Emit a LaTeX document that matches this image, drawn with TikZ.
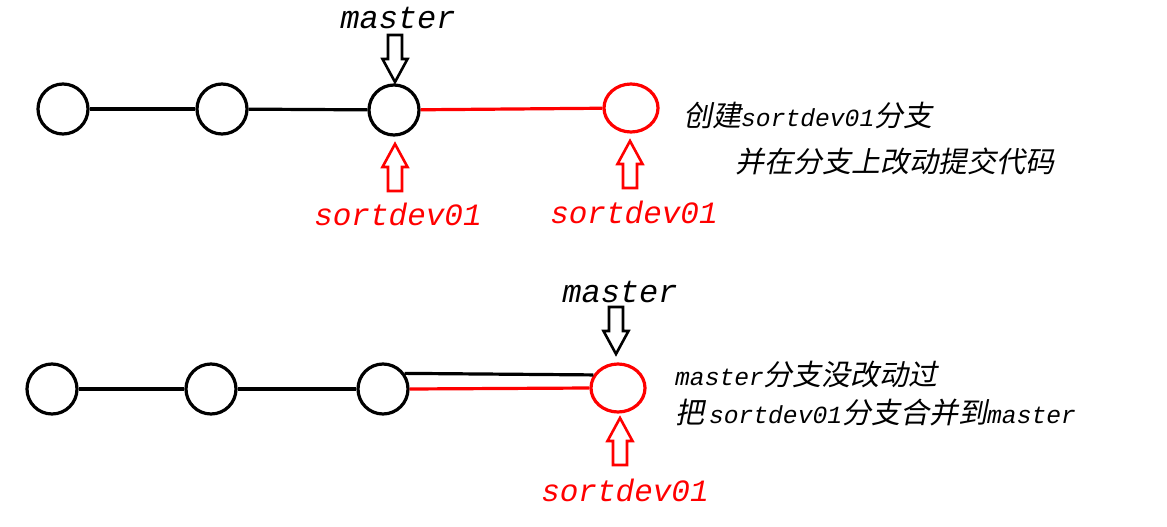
\documentclass[tikz,border=0pt]{standalone}
\usepackage{fontspec}
\usetikzlibrary{shapes.geometric}
\newfontfamily\lmono{Liberation Mono}
\newfontfamily\cjk{Noto Sans CJK SC}[FakeSlant=0.2]
\newfontfamily\latr{Liberation Mono}[Scale=0.85]
\begin{document}
\begin{tikzpicture}[x=1pt,y=-1pt,
  commit/.style={circle,draw=black,line width=3.2pt,minimum size=50pt,inner sep=0pt},
  rcommit/.style={ellipse,draw=red,line width=3.2pt,minimum width=54pt,minimum height=48pt,inner sep=0pt},
  edge/.style={line width=3.2pt},
  redge/.style={line width=3.2pt,red},
  blabel/.style={font=\lmono\itshape\fontsize{32}{36}\selectfont,text=black,inner sep=0pt},
  rlabel/.style={font=\lmono\itshape\fontsize{31}{36}\selectfont,text=red,inner sep=0pt},
  note/.style={font=\cjk\fontsize{29}{36}\selectfont,anchor=west,inner sep=0pt},
  hollowarrow/.pic={\draw[line width=2.6pt,line join=miter,pic actions]
     (-7,0) -- (7,0) -- (7,24) -- (12.5,24) -- (0,47) -- (-12.5,24) -- (-7,24) -- cycle;}
]
\useasboundingbox (0,0) rectangle (1167,527);
% top row
\node[commit] (a1) at (63,109) {};
\node[commit] (a2) at (222,109) {};
\node[commit] (a3) at (394,110) {};
\node[rcommit] (a4) at (631,108) {};
\draw[edge] (a1) -- (a2);
\draw[edge] (a2) -- (a3);
\draw[redge] (a3) -- (a4);
\pic[draw=black] (am) at (395,35) {hollowarrow};
\node[blabel] (amt) at (398,18) {master};
\pic[draw=red,yscale=-1] (as1) at (395,191) {hollowarrow};
\node[rlabel] (as1t) at (398,214) {sortdev01};
\pic[draw=red,yscale=-1] (as2) at (630,188) {hollowarrow};
\node[rlabel] (as2t) at (634,212) {sortdev01};
\node[note] (n1) at (683,116) {创建{\latr\itshape sortdev01}分支};
\node[note] (n2) at (735,161) {并在分支上改动提交代码};
% bottom row
\node[commit] (b1) at (52,389) {};
\node[commit] (b2) at (211,389) {};
\node[commit] (b3) at (383,389) {};
\node[rcommit] (b4) at (618,388) {};
\draw[edge] (b1) -- (b2);
\draw[edge] (b2) -- (b3);
\draw[edge] (b3.36) -- (b4.152);
\draw[redge] (b3.east) -- (b4.west);
\pic[draw=black] (bm) at (616,307) {hollowarrow};
\node[blabel] (bmt) at (620,292) {master};
\pic[draw=red,yscale=-1] (bs) at (620,465) {hollowarrow};
\node[rlabel] (bst) at (625,490) {sortdev01};
\node[note] (n3) at (675,375) {{\latr\itshape master}分支没改动过};
\node[note] (n4) at (675,413) {把\,{\latr\itshape sortdev01}分支合并到{\latr\itshape master}};
\end{tikzpicture}
\end{document}
